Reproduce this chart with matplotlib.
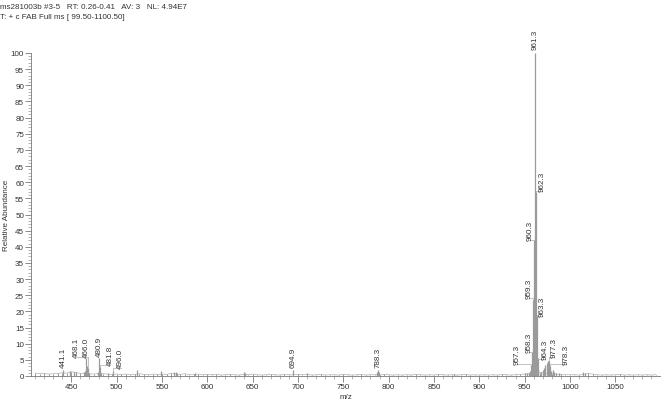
import numpy as np
import matplotlib.pyplot as plt
from matplotlib.ticker import MultipleLocator

plt.rcParams['font.family'] = ['Liberation Sans', 'DejaVu Sans']

# Header lines printed above the spectrum
header1 = "ms281003b #3-5   RT: 0.26-0.41   AV: 3   NL: 4.94E7"
header2 = "T: + c FAB Full ms [ 99.50-1100.50]"

# Baseline noise, one value every 5 m/z from 410 to 1095
noiseMz = np.arange(410, 1100, 5)
noiseHeight = [0.9, 0.7, 0.8, 0.6, 0.7, 0.8, 1.0,
               0.9, 1.3, 1.1, 0.8, 0.9, 0.7, 0.6, 0.8, 0.7, 0.6, 0.5, 0.6,
               0.5, 0.6, 0.4, 0.5, 0.7, 0.5, 0.4, 0.6, 0.5, 0.6, 0.5, 0.8, 0.6, 0.5, 0.7, 0.4, 0.5, 0.6, 0.4, 0.5,
               0.4, 0.5, 0.3, 0.4, 0.5, 0.4, 0.3, 0.5, 0.4, 0.6, 0.4, 0.3, 0.4, 0.5, 0.4, 0.3, 0.5, 0.4, 0.4, 0.5,
               0.4, 0.6, 0.3, 0.4, 0.5, 0.3, 0.4, 0.4, 0.3, 0.5, 0.4, 0.3, 0.4, 0.5, 0.3, 0.4, 0.4, 0.3, 0.5, 0.4,
               0.3, 0.4, 0.3, 0.4, 0.3, 0.5, 0.4, 0.3, 0.4, 0.3, 0.5, 0.4, 0.3, 0.4, 0.3, 0.4, 0.5, 0.3, 0.4, 0.3,
               0.4, 0.3, 0.4, 0.3, 0.5, 0.4, 0.3, 0.4, 0.5, 0.6, 0.8, 1.0, 1.2, 1.0, 0.8, 0.7, 0.6, 0.5, 0.4, 0.4,
               0.4, 0.3, 0.5, 0.8, 0.6, 0.4, 0.3, 0.4, 0.3, 0.4, 0.5, 0.3, 0.4, 0.3, 0.4, 0.3, 0.4, 0.3, 0.4]

# Real peaks (m/z, relative abundance)
peakMz = [441.1, 448.5, 453.0, 455.5, 463.5, 465.0, 466.0, 467.0, 468.1, 470.0,
          479.5, 480.9, 481.8, 483.0, 490.0, 496.0, 522.0, 549.0, 563.5, 565.0,
          566.5, 586.0, 640.0, 642.0, 694.9, 710.0, 787.3, 788.3, 789.3, 872.0,
          950.0, 953.0, 955.0, 956.3, 957.3, 958.3, 959.3, 960.3, 961.3, 962.3,
          963.3, 964.3, 965.3, 966.5, 968.0, 970.0, 971.5, 973.0, 974.5, 975.5,
          976.3, 977.3, 978.3, 979.3, 981.0, 983.0, 985.0, 988.0, 1015.0, 1016.5]
peakHeight = [2.0, 1.5, 1.2, 1.0, 1.2, 1.5, 5.5, 3.0, 2.6, 1.0,
              1.2, 5.6, 2.8, 1.0, 0.9, 1.5, 1.8, 1.5, 1.2, 1.3,
              1.0, 1.0, 1.3, 0.9, 2.0, 1.0, 1.3, 2.0, 1.2, 0.7,
              0.8, 0.8, 1.0, 1.5, 3.5, 7.3, 23.5, 42.0, 100.0, 57.0,
              19.0, 5.5, 2.0, 1.0, 1.2, 2.0, 2.5, 3.5, 4.0, 4.5,
              4.5, 4.5, 3.0, 1.5, 2.0, 1.2, 1.0, 0.8, 1.2, 0.9]

# Peak labels: text, the peak it names, where the label sits (m/z, abundance)
labelText = ["441.1", "468.1", "466.0", "480.9", "481.8", "496.0", "694.9", "788.3",
             "957.3", "958.3", "959.3", "960.3", "961.3", "962.3", "963.3", "964.3",
             "977.3", "978.3"]
labelPeak = [441.1, 468.1, 466.0, 480.9, 481.8, 496.0, 694.9, 788.3,
             957.3, 958.3, 959.3, 960.3, 961.3, 962.3, 963.3, 964.3,
             977.3, 978.3]
labelX = [441.1, 455.1, 466.1, 480.9, 493.2, 504.5, 694.9, 788.3,
          941.6, 954.6, 955.5, 956.3, 961.3, 969.2, 969.2, 972.9,
          982.9, 995.6]
labelY = [2.7, 5.8, 5.8, 6.3, 3.4, 2.5, 2.7, 2.7,
          3.7, 7.3, 24.1, 42.2, 101.2, 57.3, 18.7, 5.3,
          5.8, 3.7]

textColor = "#333333"
lineColor = "#9a9a9a"

fig = plt.figure(figsize=(6.61, 4.02), dpi=100)
ax = fig.add_axes([31 / 661, 25 / 402, 630 / 661, 323 / 402])

# noise drawn as a thin profile plus sticks
ax.plot(noiseMz, noiseHeight, color="#b0b0b0", linewidth=0.5)
ax.vlines(noiseMz, 0, noiseHeight, color=lineColor, linewidth=0.7)
ax.vlines(peakMz, 0, peakHeight, color=lineColor, linewidth=0.9)

heightOf = dict(zip(peakMz, peakHeight))
for txt, pk, lx, ly in zip(labelText, labelPeak, labelX, labelY):
    ax.text(lx, ly, txt, rotation=90, ha="center", va="bottom",
            fontsize=5.8, color=textColor, clip_on=False)
    if abs(lx - pk) > 1.5:
        # leader line from the label down to its peak
        ax.plot([lx, pk, pk], [ly, ly, heightOf[pk]], color="#b8b8b8",
                linewidth=0.6, clip_on=False)

ax.set_xlim(405.5, 1100.5)
ax.set_ylim(0, 100)
ax.xaxis.set_major_locator(MultipleLocator(50))
ax.xaxis.set_minor_locator(MultipleLocator(10))
ax.yaxis.set_major_locator(MultipleLocator(5))
ax.yaxis.set_minor_locator(MultipleLocator(1))

for side in ["top", "right"]:
    ax.spines[side].set_visible(False)
for side in ["left", "bottom"]:
    ax.spines[side].set_color("#777777")
    ax.spines[side].set_linewidth(0.6)

ax.tick_params(which="major", length=4, width=0.6, color="#777777",
               labelsize=5.8, labelcolor=textColor, pad=1)
ax.tick_params(which="minor", length=2, width=0.5, color="#999999")
ax.set_xticks([t for t in range(450, 1100, 50)])

ax.set_xlabel("m/z", fontsize=5.8, color=textColor, labelpad=2)
ax.set_ylabel("Relative Abundance", fontsize=5.8, color=textColor)
ax.yaxis.set_label_coords(-21 / 630, 0.5)

fig.text(0.0, 1 - 9 / 402, header1, fontsize=5.8, color=textColor, va="baseline")
fig.text(0.0, 1 - 19 / 402, header2, fontsize=5.8, color=textColor, va="baseline")

fig.savefig("out.png", dpi=100)
